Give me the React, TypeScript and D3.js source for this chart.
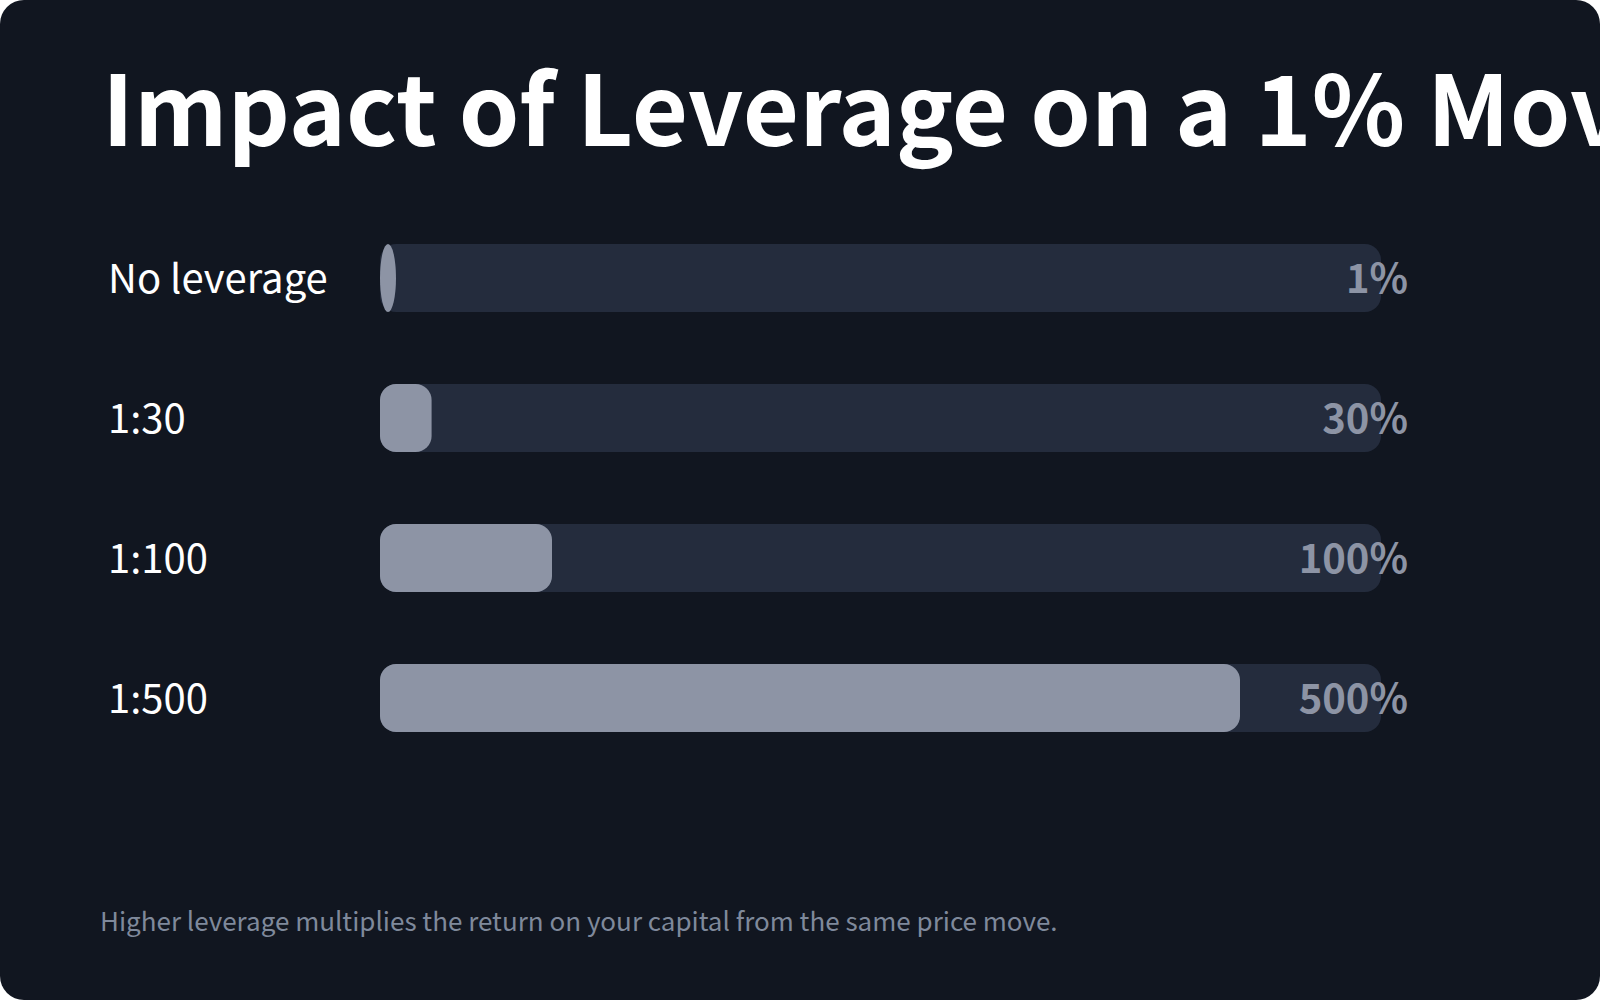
import React from "react";
import * as d3 from "d3";

const categories = ["No leverage", "1:30", "1:100", "1:500"];
const values = [1, 30, 100, 500];
const valueLabels = ["1%", "30%", "100%", "500%"];
const title = "Impact of Leverage on a 1% Move";
const footnote = "Higher leverage multiplies the return on your capital from the same price move.";

const W = 1600;
const H = 1000;
const FONT = "'Noto Sans CJK SC', 'Source Sans Pro', 'Noto Sans', sans-serif";

export default function App() {
  const trackX = 380;
  const trackW = 1001;
  const barH = 68;
  const r = 16;
  const y = d3.scaleBand<string>().domain(categories).range([244, 804]).paddingInner(0).paddingOuter(0);
  const x = d3.scaleLinear().domain([0, 500]).range([0, 860]);
  const minW = 16;

  return (
    <svg
      width={W}
      height={H}
      style={{ position: "absolute", left: 0, top: 0, display: "block" }}
      fontFamily={FONT}
    >
      <rect x={0} y={0} width={W} height={H} fill="#ffffff" />
      <rect x={0} y={0} width={W} height={H} rx={24} ry={24} fill="#111620" />
      <text x={102} y={146} fill="#ffffff" fontSize={97} fontWeight={700}>
        {title}
      </text>
      {categories.map((c, i) => {
        const top = y(c)!;
        const w = Math.max(minW, x(values[i]));
        const ry = w < 2 * r ? barH / 2 : r;
        const rx = Math.min(r, w / 2);
        return (
          <g key={c}>
            <text x={108} y={top + barH / 2 + 15} fill="#ffffff" fontSize={40} fontWeight={400}>
              {c}
            </text>
            <rect x={trackX} y={top} width={trackW} height={barH} rx={r} ry={r} fill="#242c3d" />
            <rect x={trackX} y={top} width={w} height={barH} rx={rx} ry={ry} fill="#8d94a5" />
            <text
              x={1408}
              y={top + barH / 2 + 15}
              fill="#8d94a5"
              fontSize={40}
              fontWeight={700}
              textAnchor="end"
            >
              {valueLabels[i]}
            </text>
          </g>
        );
      })}
      <text x={100} y={931} fill="#7f899b" fontSize={26} fontWeight={400}>
        {footnote}
      </text>
    </svg>
  );
}
